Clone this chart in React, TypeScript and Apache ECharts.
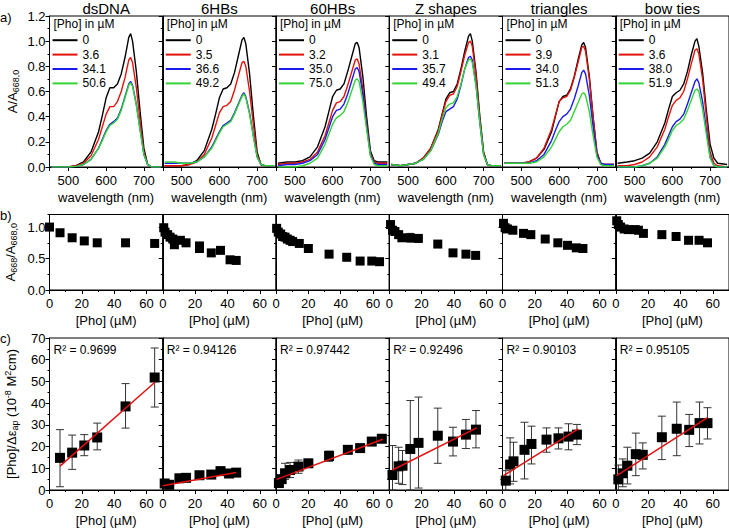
import React, { useEffect, useRef } from "react";
import * as echarts from "echarts";

const FONT = "Liberation Sans, Arial, sans-serif";

const PANEL_TITLES = ["dsDNA", "6HBs", "60HBs", "Z shapes", "triangles", "bow ties"];
const ROW_LABELS = ["a)", "b)", "c)"];
const LEGEND_TITLE = "[Pho] in µM";
const X_NAME_A = "wavelength (nm)";
const X_NAME_BC = "[Pho] (µM)";
const LINE_COLORS = ["#000000", "#e3120b", "#1a1aee", "#33d433"];

// ---------- row a: spectra ----------
const WAVELENGTHS = [455, 480, 500, 520, 540, 560, 580, 590, 600, 610, 620, 630, 640, 650, 660, 665, 670, 680, 690, 700, 710, 720, 745];

const CONC_DSDNA = ["0", "3.6", "34.1", "50.6"];
const CONC_6HB = ["0", "3.5", "36.6", "49.2"];
const CONC_60HB = ["0", "3.2", "35.0", "75.0"];
const CONC_Z = ["0", "3.1", "35.7", "49.4"];
const CONC_TRI = ["0", "3.9", "34.0", "51.3"];
const CONC_BOW = ["0", "3.6", "38.0", "51.9"];

const SPEC_DSDNA = [
  [0, 0, 0, 0.01, 0.04, 0.12, 0.28, 0.41, 0.55, 0.63, 0.63, 0.66, 0.74, 0.87, 1.03, 1.06, 1.0, 0.76, 0.44, 0.15, 0.02, 0, 0],
  [0, 0, 0, 0.01, 0.03, 0.09, 0.22, 0.32, 0.42, 0.48, 0.48, 0.52, 0.6, 0.71, 0.85, 0.87, 0.83, 0.63, 0.37, 0.12, 0.02, 0, 0],
  [0, 0, 0, 0.005, 0.02, 0.06, 0.15, 0.22, 0.29, 0.34, 0.36, 0.39, 0.46, 0.56, 0.66, 0.68, 0.65, 0.5, 0.3, 0.1, 0.02, 0, 0],
  [0, 0, 0, 0.005, 0.02, 0.06, 0.15, 0.21, 0.28, 0.33, 0.35, 0.38, 0.45, 0.55, 0.65, 0.67, 0.64, 0.49, 0.29, 0.1, 0.02, 0, 0],
];
const SPEC_6HB = [
  [0.01, 0.01, 0.01, 0.02, 0.05, 0.13, 0.3, 0.42, 0.55, 0.62, 0.63, 0.66, 0.75, 0.88, 1.01, 1.03, 0.98, 0.74, 0.41, 0.12, 0.02, 0.01, 0.01],
  [0.01, 0.01, 0.01, 0.02, 0.04, 0.1, 0.23, 0.33, 0.43, 0.48, 0.49, 0.52, 0.61, 0.72, 0.83, 0.84, 0.8, 0.6, 0.34, 0.1, 0.02, 0.01, 0.01],
  [0.03, 0.03, 0.03, 0.03, 0.04, 0.08, 0.16, 0.22, 0.28, 0.33, 0.35, 0.37, 0.43, 0.5, 0.57, 0.59, 0.56, 0.43, 0.25, 0.08, 0.02, 0.01, 0.01],
  [0.04, 0.04, 0.03, 0.03, 0.04, 0.08, 0.15, 0.21, 0.27, 0.32, 0.34, 0.36, 0.42, 0.49, 0.56, 0.58, 0.55, 0.42, 0.24, 0.08, 0.02, 0.01, 0.01],
];
const SPEC_60HB = [
  [0.03, 0.04, 0.04, 0.05, 0.08, 0.16, 0.32, 0.44, 0.56, 0.61, 0.62, 0.66, 0.76, 0.87, 0.98, 0.99, 0.95, 0.72, 0.4, 0.13, 0.05, 0.04, 0.04],
  [0.02, 0.03, 0.03, 0.04, 0.06, 0.12, 0.25, 0.35, 0.45, 0.51, 0.52, 0.56, 0.65, 0.75, 0.85, 0.86, 0.82, 0.62, 0.35, 0.11, 0.04, 0.03, 0.03],
  [0.01, 0.02, 0.02, 0.03, 0.05, 0.1, 0.22, 0.31, 0.4, 0.45, 0.46, 0.5, 0.58, 0.68, 0.78, 0.79, 0.76, 0.58, 0.33, 0.1, 0.03, 0.02, 0.02],
  [0.0, 0.0, 0.0, 0.01, 0.03, 0.07, 0.18, 0.26, 0.34, 0.39, 0.41, 0.44, 0.51, 0.6, 0.69, 0.7, 0.68, 0.52, 0.3, 0.09, 0.02, 0.01, 0.01],
];
const SPEC_Z = [
  [0.02, 0.01, 0.02, 0.03, 0.07, 0.15, 0.3, 0.42, 0.54, 0.59, 0.6, 0.66, 0.78, 0.92, 1.04, 1.06, 1.0, 0.75, 0.4, 0.12, 0.02, 0.01, 0.01],
  [0.02, 0.01, 0.02, 0.03, 0.07, 0.15, 0.29, 0.41, 0.52, 0.57, 0.58, 0.64, 0.76, 0.89, 0.99, 1.0, 0.96, 0.72, 0.38, 0.11, 0.02, 0.01, 0.01],
  [0.02, 0.01, 0.02, 0.03, 0.06, 0.13, 0.26, 0.36, 0.44, 0.46, 0.48, 0.54, 0.65, 0.78, 0.87, 0.88, 0.85, 0.65, 0.35, 0.1, 0.02, 0.01, 0.01],
  [0.02, 0.01, 0.02, 0.03, 0.06, 0.13, 0.27, 0.38, 0.47, 0.5, 0.51, 0.56, 0.66, 0.78, 0.85, 0.86, 0.83, 0.64, 0.35, 0.1, 0.02, 0.01, 0.01],
];
const SPEC_TRI = [
  [0.03, 0.03, 0.03, 0.04, 0.07, 0.14, 0.28, 0.4, 0.52, 0.56, 0.57, 0.62, 0.72, 0.85, 0.97, 0.99, 0.95, 0.72, 0.4, 0.12, 0.03, 0.02, 0.02],
  [0.03, 0.03, 0.03, 0.04, 0.07, 0.15, 0.3, 0.41, 0.52, 0.55, 0.56, 0.61, 0.71, 0.83, 0.95, 0.96, 0.92, 0.7, 0.39, 0.12, 0.03, 0.02, 0.02],
  [0.03, 0.03, 0.03, 0.03, 0.05, 0.1, 0.21, 0.29, 0.36, 0.4, 0.42, 0.46, 0.54, 0.64, 0.75, 0.77, 0.74, 0.57, 0.32, 0.1, 0.03, 0.02, 0.02],
  [0.03, 0.03, 0.03, 0.03, 0.04, 0.08, 0.16, 0.22, 0.28, 0.32, 0.34, 0.37, 0.44, 0.51, 0.58, 0.59, 0.57, 0.44, 0.25, 0.08, 0.02, 0.01, 0.01],
];
const SPEC_BOW = [
  [0.03, 0.04, 0.05, 0.07, 0.11, 0.2, 0.35, 0.46, 0.56, 0.59, 0.61, 0.66, 0.76, 0.89, 1.0, 1.02, 0.96, 0.75, 0.45, 0.18, 0.07, 0.03, 0.02],
  [0.01, 0.01, 0.02, 0.04, 0.08, 0.16, 0.3, 0.4, 0.49, 0.53, 0.55, 0.6, 0.7, 0.82, 0.93, 0.94, 0.9, 0.7, 0.4, 0.12, 0.03, 0.01, 0.0],
  [0, 0, 0, 0.01, 0.03, 0.08, 0.18, 0.25, 0.32, 0.36, 0.38, 0.42, 0.5, 0.59, 0.68, 0.7, 0.67, 0.52, 0.3, 0.08, 0.01, 0, 0],
  [0, 0, 0, 0.01, 0.03, 0.07, 0.16, 0.22, 0.29, 0.33, 0.35, 0.38, 0.45, 0.53, 0.61, 0.62, 0.6, 0.46, 0.26, 0.07, 0.01, 0, 0],
];

const CONCS = [CONC_DSDNA, CONC_6HB, CONC_60HB, CONC_Z, CONC_TRI, CONC_BOW];
const SPECTRA = [SPEC_DSDNA, SPEC_6HB, SPEC_60HB, SPEC_Z, SPEC_TRI, SPEC_BOW];

// ---------- row b: A668/A668,0 ----------
const B_X_DSDNA = [0, 6.5, 14, 21.5, 29.5, 47, 65];
const B_Y_DSDNA = [1.0, 0.91, 0.83, 0.78, 0.75, 0.75, 0.74];
const B_E_DSDNA = [0.01, 0.01, 0.01, 0.01, 0.01, 0.01, 0.01];

const B_X_6HB = [0.6, 1.4, 3, 4.5, 6.2, 7.2, 10.9, 14.4, 22.7, 22.7, 30, 35.7, 41.6, 45.4];
const B_Y_6HB = [0.99, 0.92, 0.88, 0.84, 0.81, 0.72, 0.79, 0.75, 0.7, 0.66, 0.59, 0.63, 0.48, 0.47];
const B_E_6HB = [0.02, 0.02, 0.02, 0.02, 0.02, 0.02, 0.02, 0.02, 0.03, 0.03, 0.02, 0.03, 0.02, 0.02];

const B_X_60HB = [0.4, 1.4, 2.9, 4.1, 5.6, 7, 8.7, 10.3, 14.4, 20, 32.8, 43.7, 52, 59.2, 64];
const B_Y_60HB = [0.98, 0.92, 0.89, 0.85, 0.84, 0.81, 0.79, 0.77, 0.74, 0.66, 0.57, 0.52, 0.46, 0.46, 0.45];
const B_E_60HB = [0.02, 0.03, 0.03, 0.03, 0.03, 0.03, 0.03, 0.03, 0.02, 0.02, 0.02, 0.02, 0.02, 0.02, 0.02];

const B_X_Z = [0.8, 2, 3.5, 5.8, 7.8, 13, 18, 30, 39.4, 47.4, 53.4];
const B_Y_Z = [1.04, 0.95, 0.93, 0.88, 0.83, 0.83, 0.82, 0.73, 0.59, 0.57, 0.55];
const B_E_Z = [0.01, 0.02, 0.02, 0.03, 0.03, 0.07, 0.06, 0.02, 0.02, 0.02, 0.02];

const B_X_TRI = [0.6, 1.6, 3.1, 6.4, 13, 17.5, 26.4, 34.2, 40.2, 45.6, 49.7];
const B_Y_TRI = [1.06, 0.99, 0.97, 0.95, 0.9, 0.88, 0.81, 0.75, 0.71, 0.67, 0.66];
const B_E_TRI = [0.01, 0.01, 0.01, 0.01, 0.01, 0.01, 0.01, 0.01, 0.01, 0.01, 0.01];

const B_X_BOW = [0.6, 1.6, 3, 5.2, 7.8, 12, 14, 17.1, 28.5, 37.3, 45, 51.5, 56.7];
const B_Y_BOW = [1.1, 1.04, 1.0, 0.97, 0.96, 0.96, 0.95, 0.9, 0.88, 0.85, 0.79, 0.79, 0.75];
const B_E_BOW = [0.01, 0.01, 0.01, 0.01, 0.01, 0.01, 0.01, 0.01, 0.01, 0.01, 0.01, 0.01, 0.01];

const B_X = [B_X_DSDNA, B_X_6HB, B_X_60HB, B_X_Z, B_X_TRI, B_X_BOW];
const B_Y = [B_Y_DSDNA, B_Y_6HB, B_Y_60HB, B_Y_Z, B_Y_TRI, B_Y_BOW];
const B_E = [B_E_DSDNA, B_E_6HB, B_E_60HB, B_E_Z, B_E_TRI, B_E_BOW];

// ---------- row c: [Pho]/Δε_ap ----------
const C_X_DSDNA = [6.5, 14, 21.5, 29.5, 47, 65];
const C_Y_DSDNA = [14.8, 17.2, 20.5, 24.2, 38.5, 51.8];
const C_LO_DSDNA = [1.5, 9.5, 15.8, 18.5, 28.5, 38.2];
const C_HI_DSDNA = [27.8, 25.3, 25.5, 30.8, 49, 65.4];
const FIT_DSDNA = [[6.5, 11], [65, 49.5]];

const C_X_6HB = [1.2, 4, 10.3, 14.4, 22.7, 30, 35.7, 41, 45.4];
const C_Y_6HB = [3.0, 2.4, 5.4, 5.6, 6.8, 7.1, 8.7, 7.6, 8.0];
const C_LO_6HB = [2.2, 1.6, 4.6, 4.8, 6.0, 6.3, 7.9, 6.8, 7.2];
const C_HI_6HB = [3.8, 3.2, 6.2, 6.4, 7.6, 7.9, 9.5, 8.4, 8.8];
const FIT_6HB = [[0, 2], [45.4, 8.1]];

const C_X_60HB = [1.8, 3.5, 5.6, 8.7, 13.9, 20, 32.8, 44.4, 52, 59.2, 65.4];
const C_Y_60HB = [3.2, 5.0, 7.7, 9.2, 10.8, 12.3, 15.7, 18.5, 19.3, 22.3, 23.6];
const C_LO_60HB = [2.2, 3.5, 4.9, 5.7, 7.7, 10.8, 13.2, 17.5, 18.3, 21.3, 22.6];
const C_HI_60HB = [4.2, 6.5, 12.3, 12.7, 13.8, 13.8, 17.9, 19.5, 20.3, 23.3, 24.6];
const FIT_60HB = [[0.4, 4.9], [66, 23.4]];

const C_X_Z = [2, 5.8, 8.2, 13, 18.1, 30, 39.4, 47.4, 53.6];
const C_Y_Z = [6.9, 10.9, 11.2, 18.9, 21.7, 25, 22.3, 25.5, 27.8];
const C_LO_Z = [0, 3.1, 2.5, 0, 0.9, 12.3, 15.7, 19.1, 19.4];
const C_HI_Z = [20.5, 19.7, 18.2, 41.2, 42.8, 37.7, 28.9, 32.5, 36.6];
const FIT_Z = [[2, 9.2], [54, 28.6]];

const C_X_TRI = [2, 4.7, 6.8, 13.6, 17.9, 27.2, 34.6, 40.8, 46];
const C_Y_TRI = [4.3, 11.7, 13.2, 18.5, 21.2, 23.2, 23.8, 24.6, 25.5];
const C_LO_TRI = [0, 2.8, 4, 5.1, 12, 17.4, 18.9, 18.5, 20.9];
const C_HI_TRI = [8.9, 24, 22, 31.2, 29.4, 28.6, 28.6, 30.5, 30.2];
const FIT_TRI = [[0.6, 6.6], [46.8, 28.2]];

const C_X_BOW = [1.6, 4.3, 7.2, 12.4, 16.7, 28.5, 37.7, 45.4, 51.8, 56.7];
const C_Y_BOW = [4.9, 7.7, 11.2, 16.5, 16.2, 24.3, 28.2, 27.7, 30.8, 30.8];
const C_LO_BOW = [0, 1.5, 2.8, 6.6, 9.7, 14, 15.8, 20, 21.2, 23.5];
const C_HI_BOW = [11.5, 14.3, 19.7, 26.2, 21.7, 34, 40.5, 34.8, 40.5, 37.9];
const FIT_BOW = [[0.6, 6.6], [56.7, 33.3]];

const R2_VALUES = ["0.9699", "0.94126", "0.97442", "0.92496", "0.90103", "0.95105"];

const C_X = [C_X_DSDNA, C_X_6HB, C_X_60HB, C_X_Z, C_X_TRI, C_X_BOW];
const C_Y = [C_Y_DSDNA, C_Y_6HB, C_Y_60HB, C_Y_Z, C_Y_TRI, C_Y_BOW];
const C_LO = [C_LO_DSDNA, C_LO_6HB, C_LO_60HB, C_LO_Z, C_LO_TRI, C_LO_BOW];
const C_HI = [C_HI_DSDNA, C_HI_6HB, C_HI_60HB, C_HI_Z, C_HI_TRI, C_HI_BOW];
const FITS = [FIT_DSDNA, FIT_6HB, FIT_60HB, FIT_Z, FIT_TRI, FIT_BOW];

// ---------- layout ----------
const L0 = 49.5;
const PW = 113.25;
const ROWS = [
  { top: 16, h: 151 },
  { top: 214.5, h: 75.5 },
  { top: 338, h: 152 },
];

const BLACK = "#000";

const RICH = {
  n: { fontSize: 13, color: BLACK, fontFamily: FONT, lineHeight: 16, verticalAlign: "middle" },
  s: { fontSize: 9, color: BLACK, fontFamily: FONT, lineHeight: 9, verticalAlign: "bottom" },
  p: { fontSize: 9, color: BLACK, fontFamily: FONT, lineHeight: 9, verticalAlign: "top" },
};

const Y_NAMES = [
  "{n|A/A}{s|668,0}",
  "{n|A}{s|668}{n|/A}{s|668,0}",
  "{n|[Pho]/Δε}{s|ap}{n| (10}{p|-8}{n| M}{p|2}{n|cm)}",
];

function buildOption() {
  const grid: any[] = [];
  const xAxis: any[] = [];
  const yAxis: any[] = [];
  const series: any[] = [];
  const legend: any[] = [];
  const graphic: any[] = [];
  const tickStyle = { color: BLACK, width: 1 };

  const addPanel = (row: number, p: number, xr: any, yr: any) => {
    const g = grid.length;
    const left = L0 + p * PW;
    grid.push({
      left, top: ROWS[row].top, width: PW, height: ROWS[row].h,
      show: true, borderColor: BLACK, borderWidth: 1, backgroundColor: "transparent",
      containLabel: false, outerBoundsMode: "none",
    });
    xAxis.push({
      gridIndex: g, type: "value", position: "bottom", min: xr.min, max: xr.max,
      ...(xr.interval ? { interval: xr.interval } : { splitNumber: xr.split }),
      axisLine: { show: true, onZero: false, lineStyle: tickStyle },
      axisTick: { show: true, inside: false, length: 4, lineStyle: tickStyle },
      axisLabel: {
        show: true, color: BLACK, fontSize: 13, fontFamily: FONT, margin: 7,
        showMinLabel: true, showMaxLabel: false, hideOverlap: false, formatter: xr.fmt,
      },
      splitLine: { show: false },
      name: xr.name, nameLocation: "middle", nameGap: 24, nameMoveOverlap: false,
      nameTextStyle: { color: BLACK, fontSize: 13, fontFamily: FONT },
    });
    xAxis.push({
      gridIndex: g, type: "value", position: "bottom", min: xr.min, max: xr.max, interval: xr.minor,
      axisLine: { show: false, onZero: false },
      axisTick: { show: true, inside: false, length: 2, lineStyle: tickStyle },
      axisLabel: { show: false }, splitLine: { show: false },
    });
    const first = p === 0;
    yAxis.push({
      gridIndex: g, type: "value", position: "left", min: yr.min, max: yr.max, interval: yr.interval,
      axisLine: { show: true, onZero: false, lineStyle: tickStyle },
      axisTick: { show: true, inside: false, length: 4, lineStyle: tickStyle },
      axisLabel: {
        show: first, color: BLACK, fontSize: 13, fontFamily: FONT, margin: 4,
        showMinLabel: true, showMaxLabel: yr.showMax, hideOverlap: false, formatter: yr.fmt,
      },
      splitLine: { show: false },
      name: first ? yr.name : "", nameLocation: "middle", nameGap: yr.nameGap, nameMoveOverlap: false,
      nameTextStyle: { color: BLACK, fontSize: 13, fontFamily: FONT, rich: RICH },
    });
    yAxis.push({
      gridIndex: g, type: "value", position: "left", min: yr.min, max: yr.max, interval: yr.minor,
      axisLine: { show: false, onZero: false },
      axisTick: { show: true, inside: false, length: 2, lineStyle: tickStyle },
      axisLabel: { show: false }, splitLine: { show: false },
    });
    return g;
  };

  const errBars = (g: number, xs: number[], lo: number[], hi: number[], cap: number) => ({
    type: "custom", xAxisIndex: 2 * g, yAxisIndex: 2 * g, silent: true, z: 3,
    data: xs.map((x, i) => [x, lo[i], hi[i]]),
    encode: { x: 0, y: [1, 2] },
    renderItem: (params: any, api: any) => {
      const x = api.value(0);
      const a = api.coord([x, api.value(1)]);
      const b = api.coord([x, api.value(2)]);
      const style = { stroke: "#333", lineWidth: 1, fill: "none" };
      return {
        type: "group",
        children: [
          { type: "line", shape: { x1: a[0], y1: a[1], x2: b[0], y2: b[1] }, style },
          { type: "line", shape: { x1: a[0] - cap, y1: a[1], x2: a[0] + cap, y2: a[1] }, style },
          { type: "line", shape: { x1: b[0] - cap, y1: b[1], x2: b[0] + cap, y2: b[1] }, style },
        ],
      };
    },
  });

  const xFmtA = (v: number) => (Math.round(v) % 100 === 0 ? String(Math.round(v)) : "");
  const xFmtBC = (v: number) => String(Math.round(v));
  const yFmt1 = (v: number) => v.toFixed(1);
  const yFmt0 = (v: number) => String(Math.round(v));

  for (let p = 0; p < 6; p++) {
    const left = L0 + p * PW;
    // row a
    const ga = addPanel(0, p,
      { min: 450, max: 750, split: 3, minor: 50, fmt: xFmtA, name: X_NAME_A },
      { min: 0, max: 1.2, interval: 0.2, minor: 0.1, fmt: yFmt1, showMax: true, name: Y_NAMES[0], nameGap: 29 });
    SPECTRA[p].forEach((spec, k) => {
      series.push({
        type: "line", name: CONCS[p][k], xAxisIndex: 2 * ga, yAxisIndex: 2 * ga,
        data: WAVELENGTHS.map((w, i) => [w, spec[i]]),
        symbol: "none", showSymbol: false, silent: true, z: 2 + k,
        lineStyle: { color: LINE_COLORS[k], width: 1.4 }, itemStyle: { color: LINE_COLORS[k] },
      });
    });
    legend.push({
      show: true, left: left + 3, top: 33, orient: "vertical", padding: 0,
      data: CONCS[p].map((n) => ({ name: n })), icon: "rect", itemWidth: 25, itemHeight: 2, itemGap: 0,
      selectedMode: false,
      textStyle: { color: BLACK, fontSize: 12, fontFamily: FONT, lineHeight: 14.4 },
    });
    graphic.push({
      type: "text", x: left + 4, y: 24, silent: true,
      style: { text: LEGEND_TITLE, fontSize: 12, fontFamily: FONT, fill: BLACK, align: "left", verticalAlign: "middle", textAlign: "left", textVerticalAlign: "middle" },
    });
    graphic.push({
      type: "text", x: left + PW / 2, y: 8, silent: true,
      style: { text: PANEL_TITLES[p], fontSize: 15, fontFamily: FONT, fill: BLACK, align: "center", verticalAlign: "middle", textAlign: "center", textVerticalAlign: "middle" },
    });

    // row b
    const gb = addPanel(1, p,
      { min: 0, max: 70, interval: 20, minor: 10, fmt: xFmtBC, name: X_NAME_BC },
      { min: 0, max: 1.2, interval: 0.5, minor: 0.25, fmt: yFmt1, showMax: false, name: Y_NAMES[1], nameGap: 31 });
    series.push(errBars(gb, B_X[p], B_Y[p].map((y, i) => y - B_E[p][i]), B_Y[p].map((y, i) => y + B_E[p][i]), 3.5));
    series.push({
      type: "scatter", xAxisIndex: 2 * gb, yAxisIndex: 2 * gb, silent: true, z: 4,
      data: B_X[p].map((x, i) => [x, B_Y[p][i]]), symbol: "rect", symbolSize: 9,
      itemStyle: { color: BLACK, opacity: 1 },
    });

    // row c
    const gc = addPanel(2, p,
      { min: 0, max: 70, interval: 20, minor: 10, fmt: xFmtBC, name: X_NAME_BC },
      { min: 0, max: 70, interval: 10, minor: 5, fmt: yFmt0, showMax: true, name: Y_NAMES[2], nameGap: 30 });
    series.push(errBars(gc, C_X[p], C_LO[p], C_HI[p], 4));
    series.push({
      type: "scatter", xAxisIndex: 2 * gc, yAxisIndex: 2 * gc, silent: true, z: 4,
      data: C_X[p].map((x, i) => [x, C_Y[p][i]]), symbol: "rect", symbolSize: 10,
      itemStyle: { color: BLACK, opacity: 1 },
    });
    series.push({
      type: "line", xAxisIndex: 2 * gc, yAxisIndex: 2 * gc, silent: true, z: 5,
      data: FITS[p], symbol: "none", showSymbol: false,
      lineStyle: { color: "#e51010", width: 1.5 }, itemStyle: { color: "#e51010" },
    });
    graphic.push({
      type: "text", x: left + 4, y: 350, silent: true,
      style: { text: "R² = " + R2_VALUES[p], fontSize: 12, fontFamily: FONT, fill: BLACK, align: "left", verticalAlign: "middle", textAlign: "left", textVerticalAlign: "middle" },
    });
  }

  const rowLabelY = [17, 215, 338];
  ROW_LABELS.forEach((t, r) => {
    graphic.push({
      type: "text", x: 0, y: rowLabelY[r], silent: true,
      style: { text: t, fontSize: 13, fontFamily: FONT, fill: BLACK, align: "left", verticalAlign: "middle", textAlign: "left", textVerticalAlign: "middle" },
    });
  });

  return {
    animation: false,
    backgroundColor: "#fff",
    textStyle: { fontFamily: FONT },
    grid, xAxis, yAxis, series, legend, graphic,
  };
}

export default function App() {
  const ref = useRef<HTMLDivElement>(null);
  useEffect(() => {
    if (!ref.current) return;
    const chart = echarts.init(ref.current, null, { renderer: "svg" });
    chart.setOption(buildOption() as any);
    return () => chart.dispose();
  }, []);
  return (
    <div
      ref={ref}
      style={{ position: "fixed", left: 0, top: 0, width: 729, height: 529, background: "#fff" }}
    />
  );
}
